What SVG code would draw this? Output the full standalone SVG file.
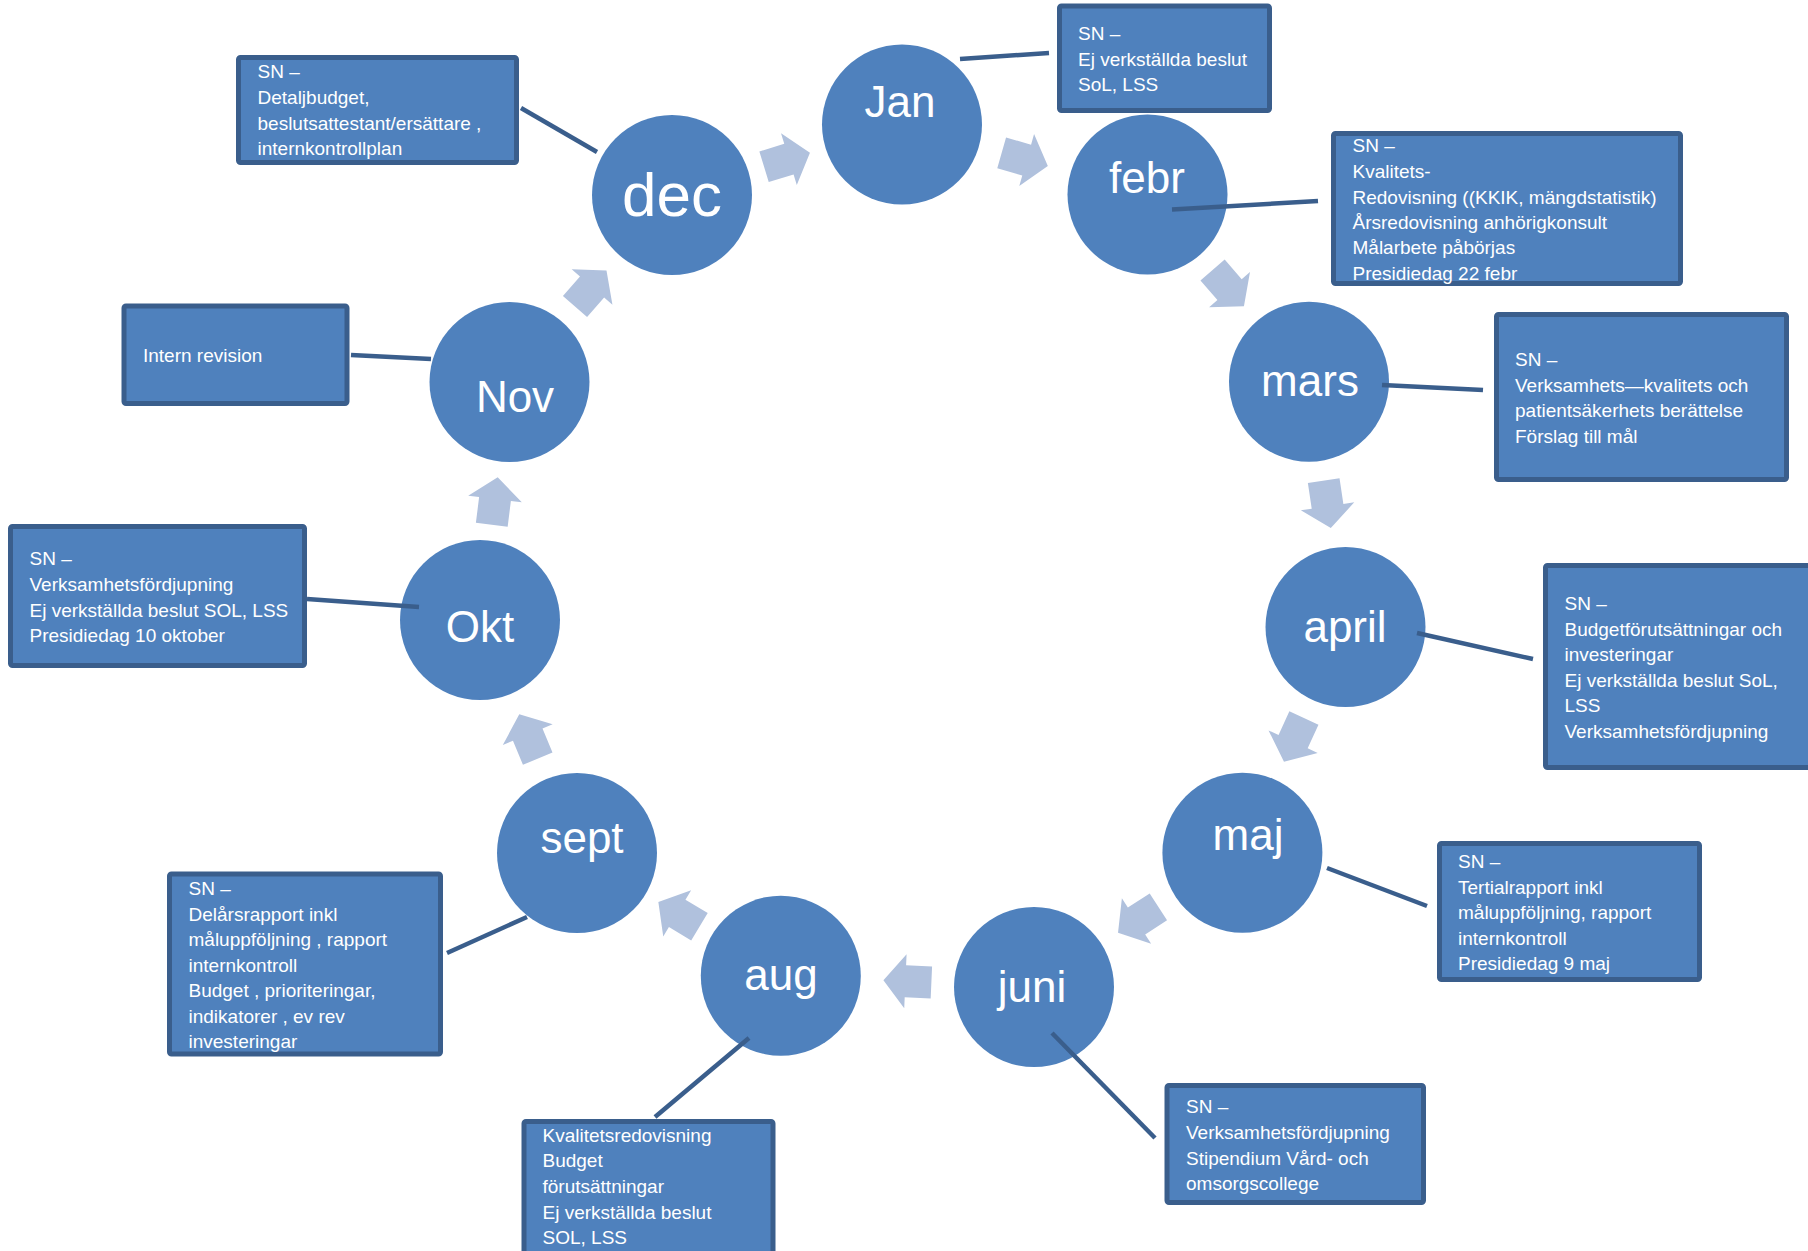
<svg xmlns="http://www.w3.org/2000/svg" width="1808" height="1251" viewBox="0 0 1808 1251">
<style>
.bg{fill:#ffffff}
.month circle{fill:#4F81BD}
.month text{fill:#ffffff;font-family:"Liberation Sans",Arial,sans-serif;font-size:44px;text-anchor:middle}
.box rect{fill:#4F81BD;stroke:#3A5E8C;stroke-width:5}
.box text{fill:#ffffff;font-family:"Liberation Sans",Arial,sans-serif;font-size:19px}
.link{stroke:#3A5E8C;stroke-width:4.5;fill:none}
.arr{fill:#B0C1DD}
</style>
<defs>
<polygon id="arrow" points="-24,-16 2,-16 2,-27 24,0 2,27 2,16 -24,16"/>
</defs>
<rect class="bg" x="0" y="0" width="1808" height="1251"/>

<g id="month-jan" class="month"><circle cx="902" cy="124.5" r="80"/><text x="900" y="117">Jan</text></g>
<g id="month-febr" class="month"><circle cx="1147.5" cy="194.5" r="80"/><text x="1147" y="193">febr</text></g>
<g id="month-mars" class="month"><circle cx="1309" cy="381.7" r="80"/><text x="1310" y="396">mars</text></g>
<g id="month-april" class="month"><circle cx="1345.5" cy="627" r="80"/><text x="1345" y="642">april</text></g>
<g id="month-maj" class="month"><circle cx="1242.4" cy="852.7" r="80"/><text x="1248" y="850">maj</text></g>
<g id="month-juni" class="month"><circle cx="1034" cy="987" r="80"/><text x="1032" y="1002">juni</text></g>
<g id="month-aug" class="month"><circle cx="780.8" cy="975.8" r="80"/><text x="781" y="990">aug</text></g>
<g id="month-sept" class="month"><circle cx="577" cy="853" r="80"/><text x="582" y="853">sept</text></g>
<g id="month-okt" class="month"><circle cx="480" cy="620" r="80"/><text x="480" y="642">Okt</text></g>
<g id="month-nov" class="month"><circle cx="509.5" cy="382" r="80"/><text x="515" y="412">Nov</text></g>
<g id="month-dec" class="month"><circle cx="672" cy="195" r="80"/><text x="672" y="216" style="font-size:62px">dec</text></g>

<g id="connectors">
<use href="#arrow" class="arr" transform="translate(1024.75,159.5) rotate(15.9)"/>
<use href="#arrow" class="arr" transform="translate(1228.25,288.1) rotate(49.2)"/>
<use href="#arrow" class="arr" transform="translate(1327.25,504.35) rotate(81.5)"/>
<use href="#arrow" class="arr" transform="translate(1293.95,739.85) rotate(114.55)"/>
<use href="#arrow" class="arr" transform="translate(1138.2,919.85) rotate(147.2)"/>
<use href="#arrow" class="arr" transform="translate(907.4,981.4) rotate(182.5)"/>
<use href="#arrow" class="arr" transform="translate(678.9,914.4) rotate(211.1)"/>
<use href="#arrow" class="arr" transform="translate(528.5,736.5) rotate(247.4)"/>
<use href="#arrow" class="arr" transform="translate(494.75,501) rotate(277.1)"/>
<use href="#arrow" class="arr" transform="translate(590.75,288.5) rotate(-49)"/>
<use href="#arrow" class="arr" transform="translate(787,159.75) rotate(-17)"/>
<line class="link" x1="521" y1="108" x2="597" y2="152"/>
<line class="link" x1="960" y1="59" x2="1049" y2="53"/>
<line class="link" x1="1172" y1="209.5" x2="1318" y2="201"/>
<line class="link" x1="1382" y1="385" x2="1483" y2="390"/>
<line class="link" x1="1417" y1="633" x2="1533" y2="659"/>
<line class="link" x1="1327" y1="868" x2="1427" y2="906"/>
<line class="link" x1="1052" y1="1033" x2="1155" y2="1138"/>
<line class="link" x1="749" y1="1038" x2="655" y2="1117"/>
<line class="link" x1="447" y1="953" x2="527" y2="917"/>
<line class="link" x1="307" y1="599" x2="419" y2="607"/>
<line class="link" x1="351" y1="355" x2="431" y2="359"/>
</g>

<g id="note-dec" class="box"><rect x="238.5" y="57.5" width="278" height="105" rx="2"/>
<text x="257.5" y="78">SN –</text><text x="257.5" y="104">Detaljbudget,</text><text x="257.5" y="129.5">beslutsattestant/ersättare ,</text><text x="257.5" y="155">internkontrollplan</text></g>

<g id="note-jan" class="box"><rect x="1059.5" y="6" width="210" height="104.5" rx="2"/>
<text x="1078" y="40">SN –</text><text x="1078" y="66">Ej verkställda beslut</text><text x="1078" y="91">SoL, LSS</text></g>

<g id="note-febr" class="box"><rect x="1333.5" y="133.5" width="347" height="150" rx="2"/>
<text x="1352.5" y="152">SN –</text><text x="1352.5" y="177.5">Kvalitets-</text><text x="1352.5" y="203.5">Redovisning ((KKIK, mängdstatistik)</text><text x="1352.5" y="228.5">Årsredovisning anhörigkonsult</text><text x="1352.5" y="254">Målarbete påbörjas</text><text x="1352.5" y="280">Presidiedag 22 febr</text></g>

<g id="note-mars" class="box"><rect x="1496.5" y="314.5" width="290" height="165" rx="2"/>
<text x="1515" y="366">SN –</text><text x="1515" y="391.5">Verksamhets—kvalitets och</text><text x="1515" y="417">patientsäkerhets berättelse</text><text x="1515" y="442.5">Förslag till mål</text></g>

<g id="note-april" class="box"><rect x="1545.5" y="565.5" width="280" height="202" rx="2"/>
<text x="1564.5" y="610">SN –</text><text x="1564.5" y="635.5">Budgetförutsättningar och</text><text x="1564.5" y="661">investeringar</text><text x="1564.5" y="686.5">Ej verkställda beslut SoL,</text><text x="1564.5" y="712">LSS</text><text x="1564.5" y="737.5">Verksamhetsfördjupning</text></g>

<g id="note-maj" class="box"><rect x="1439.5" y="843.5" width="260" height="136" rx="2"/>
<text x="1458" y="867.5">SN –</text><text x="1458" y="893.5">Tertialrapport  inkl</text><text x="1458" y="919">måluppföljning, rapport</text><text x="1458" y="944.5">internkontroll</text><text x="1458" y="970">Presidiedag 9 maj</text></g>

<g id="note-juni" class="box"><rect x="1167" y="1085.5" width="256.5" height="117" rx="2"/>
<text x="1186" y="1113">SN –</text><text x="1186" y="1139">Verksamhetsfördjupning</text><text x="1186" y="1164.5">Stipendium Vård- och</text><text x="1186" y="1190">omsorgscollege</text></g>

<g id="note-aug" class="box"><rect x="524" y="1121.5" width="249" height="140" rx="2"/>
<text x="542.5" y="1141.5">Kvalitetsredovisning</text><text x="542.5" y="1167">Budget</text><text x="542.5" y="1193">förutsättningar</text><text x="542.5" y="1218.5">Ej verkställda beslut</text><text x="542.5" y="1244">SOL, LSS</text></g>

<g id="note-sept" class="box"><rect x="169.5" y="874" width="271" height="180" rx="2"/>
<text x="188.5" y="895">SN –</text><text x="188.5" y="920.5">Delårsrapport inkl</text><text x="188.5" y="946">måluppföljning , rapport</text><text x="188.5" y="971.5">internkontroll</text><text x="188.5" y="997">Budget , prioriteringar,</text><text x="188.5" y="1022.5">indikatorer , ev rev</text><text x="188.5" y="1048">investeringar</text></g>

<g id="note-okt" class="box"><rect x="10.5" y="526.5" width="294" height="139" rx="2"/>
<text x="29.5" y="565">SN –</text><text x="29.5" y="591">Verksamhetsfördjupning</text><text x="29.5" y="616.5">Ej verkställda beslut SOL, LSS</text><text x="29.5" y="642">Presidiedag 10 oktober</text></g>

<g id="note-nov" class="box"><rect x="124" y="306" width="223" height="97.5" rx="2"/>
<text x="143" y="361.5">Intern revision</text></g>
</svg>
